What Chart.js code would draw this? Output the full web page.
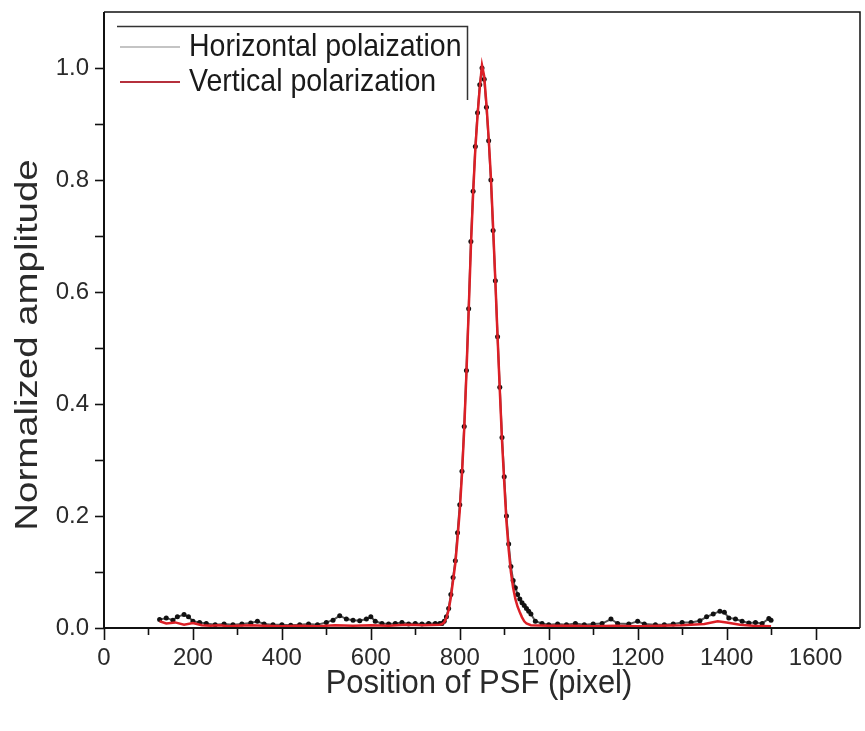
<!DOCTYPE html>
<html>
<head>
<meta charset="utf-8">
<script src="https://cdn.jsdelivr.net/npm/chart.js@4.4.1/dist/chart.umd.min.js"></script>
<style>
  html,body{margin:0;padding:0;background:#fff;}
  #wrap{width:865px;height:731px;}
</style>
</head>
<body>
<div id="wrap"><canvas id="c" width="865" height="731"></canvas></div>
<script>
// ---- data ----
const seriesLabels = ['Horizontal polaization', 'Vertical polarization'];
const xTitle = 'Position of PSF (pixel)';
const yTitle = 'Normalized amplitude';

const hX = [125,140,155,165,180,190,200,215,230,250,270,290,310,330,345,360,380,400,420,440,460,480,500,515,530,545,560,575,590,600,610,625,640,655,670,685,700,715,730,745,755,
  760,765,770,775,780,785,790,795,800,805,810,815,820,825,830,835,840,845,850,855,860,865,870,875,880,885,890,895,900,905,910,915,920,925,930,935,940,945,950,955,960,970,
  985,1000,1020,1040,1060,1080,1100,1120,1140,1155,1180,1200,1215,1240,1260,1280,1300,1320,1340,1355,1370,1385,1395,1405,1420,1435,1450,1465,1480,1495,1500];
const hY = [0.015,0.018,0.014,0.020,0.024,0.020,0.012,0.010,0.008,0.006,0.007,0.006,0.007,0.009,0.012,0.007,0.006,0.006,0.005,0.006,0.007,0.006,0.010,0.014,0.022,0.016,0.014,0.013,0.016,0.020,0.012,0.008,0.007,0.008,0.010,0.007,0.008,0.007,0.008,0.008,0.008,
  0.008,0.012,0.020,0.035,0.060,0.090,0.120,0.170,0.220,0.280,0.360,0.460,0.570,0.690,0.780,0.860,0.920,0.970,1.000,0.980,0.930,0.870,0.800,0.710,0.620,0.520,0.430,0.340,0.270,0.200,0.150,0.110,0.085,0.072,0.060,0.052,0.045,0.040,0.035,0.030,0.025,0.012,
  0.008,0.006,0.007,0.006,0.008,0.006,0.007,0.008,0.016,0.008,0.007,0.012,0.007,0.006,0.006,0.007,0.010,0.010,0.013,0.020,0.025,0.030,0.028,0.018,0.016,0.012,0.009,0.010,0.008,0.017,0.014];

const vX = [125,140,160,180,200,220,240,260,280,300,330,360,400,440,480,520,560,600,640,680,720,755,
  760,765,770,775,780,785,790,795,800,805,810,815,820,825,830,835,840,845,850,855,860,865,870,875,880,885,890,895,900,905,910,915,920,925,930,935,940,945,950,
  960,1000,1050,1100,1150,1200,1250,1300,1350,1380,1400,1430,1460,1500];
const vY = [0.012,0.008,0.010,0.006,0.009,0.005,0.004,0.005,0.003,0.004,0.005,0.004,0.003,0.004,0.003,0.005,0.004,0.005,0.004,0.006,0.005,0.006,
  0.007,0.010,0.018,0.032,0.055,0.085,0.115,0.160,0.210,0.275,0.355,0.455,0.565,0.680,0.775,0.855,0.915,0.965,1.005,0.985,0.935,0.875,0.805,0.715,0.620,0.520,0.425,0.335,0.260,0.190,0.140,0.100,0.072,0.052,0.038,0.028,0.019,0.012,0.008,
  0.005,0.004,0.004,0.003,0.004,0.003,0.004,0.005,0.007,0.012,0.010,0.006,0.004,0.003];

const xMajor = [0,200,400,600,800,1000,1200,1400,1600];
const yMajor = [0.0,0.2,0.4,0.6,0.8,1.0];

const toPts = (xs, ys) => xs.map((x, i) => ({x: x, y: ys[i]}));

const FONT = '"Liberation Sans", Arial, Helvetica, sans-serif';
const TXT = '#2a2a2a';

const frame = {
  id: 'frame',
  afterDraw(chart) {
    const ctx = chart.ctx, xs = chart.scales.x, ys = chart.scales.y, a = chart.chartArea;
    ctx.save();
    ctx.strokeStyle = '#111';
    // box
    ctx.lineWidth = 1.5;
    ctx.beginPath();
    ctx.moveTo(a.left, a.top); ctx.lineTo(a.right, a.top); ctx.lineTo(a.right, a.bottom);
    ctx.stroke();
    ctx.lineWidth = 2;
    ctx.beginPath();
    ctx.moveTo(a.left, a.top); ctx.lineTo(a.left, a.bottom); ctx.lineTo(a.right, a.bottom);
    ctx.stroke();
    // x ticks (major & minor)
    ctx.lineWidth = 1.6;
    for (let v = 0; v <= 1600; v += 100) {
      const px = Math.round(xs.getPixelForValue(v)) + 0.5;
      const len = (v % 200 === 0) ? 12 : 7;
      ctx.beginPath(); ctx.moveTo(px, a.bottom); ctx.lineTo(px, a.bottom + len); ctx.stroke();
    }
    // y ticks
    for (let k = 0; k <= 10; k++) {
      const py = Math.round(ys.getPixelForValue(k / 10)) + 0.5;
      ctx.beginPath(); ctx.moveTo(a.left, py); ctx.lineTo(a.left - 9, py); ctx.stroke();
    }
    // axis titles
    ctx.fillStyle = TXT;
    ctx.textAlign = 'center'; ctx.textBaseline = 'middle';
    ctx.save();
    ctx.translate(479, 684);
    ctx.scale(1, 1.1);
    ctx.font = '31px ' + FONT;
    ctx.fillText(xTitle, 0, 0);
    ctx.restore();
    ctx.save();
    ctx.translate(28, 345);
    ctx.rotate(-Math.PI / 2);
    ctx.scale(1.2, 1);
    ctx.font = '32px ' + FONT;
    ctx.fillText(yTitle, 0, 0);
    ctx.restore();
    // legend
    ctx.strokeStyle = '#333'; ctx.lineWidth = 1.5;
    ctx.beginPath(); ctx.moveTo(117, 26.5); ctx.lineTo(467.5, 26.5); ctx.lineTo(467.5, 100); ctx.stroke();
    const rows = [47, 82];
    chart.data.datasets.forEach((ds, i) => {
      ctx.strokeStyle = ds.legendColor; ctx.lineWidth = 2;
      ctx.beginPath(); ctx.moveTo(120, rows[i]); ctx.lineTo(180, rows[i]); ctx.stroke();
      ctx.save();
      ctx.translate(189, rows[i] + 1);
      ctx.scale(1, 1.08);
      ctx.fillStyle = '#1a1a1a';
      ctx.font = '28.5px ' + FONT;
      ctx.textAlign = 'left'; ctx.textBaseline = 'middle';
      ctx.fillText(ds.label, 0, 0);
      ctx.restore();
    });
    ctx.restore();
  }
};

new Chart(document.getElementById('c'), {
  type: 'line',
  data: {
    datasets: [
      {
        label: seriesLabels[0],
        data: toPts(hX, hY),
        borderColor: '#555555',
        legendColor: '#c4c4c4',
        borderWidth: 2,
        pointRadius: 2.5,
        pointBackgroundColor: '#111',
        pointBorderColor: '#111',
        pointBorderWidth: 0,
        tension: 0,
        order: 2
      },
      {
        label: seriesLabels[1],
        data: toPts(vX, vY),
        borderColor: '#dc1f26',
        legendColor: '#b5303c',
        borderWidth: 2.5,
        pointRadius: 0,
        tension: 0,
        order: 1
      }
    ]
  },
  options: {
    responsive: false,
    animation: false,
    events: [],
    layout: { padding: { top: 12, right: 5, left: 0, bottom: 0 } },
    plugins: { legend: { display: false }, tooltip: { enabled: false } },
    scales: {
      x: {
        type: 'linear', min: 0, max: 1700,
        afterFit(s) { s.height = 103; s.paddingLeft = 0; s.paddingRight = 0; },
        grid: { display: false, drawTicks: false },
        border: { display: false },
        afterBuildTicks(s) { s.ticks = xMajor.map(v => ({value: v})); },
        ticks: {
          autoSkip: false, maxRotation: 0, padding: 16,
          color: TXT, font: { family: FONT, size: 24 },
          callback: v => String(v)
        }
      },
      y: {
        type: 'linear', min: 0, max: 1.1,
        afterFit(s) { s.width = 104; s.paddingTop = 0; s.paddingBottom = 0; },
        grid: { display: false, drawTicks: false },
        border: { display: false },
        afterBuildTicks(s) { s.ticks = yMajor.map(v => ({value: v})); },
        ticks: {
          padding: 15,
          color: TXT, font: { family: FONT, size: 24 },
          callback: v => Number(v).toFixed(1)
        }
      }
    }
  },
  plugins: [frame]
});
</script>
</body>
</html>
